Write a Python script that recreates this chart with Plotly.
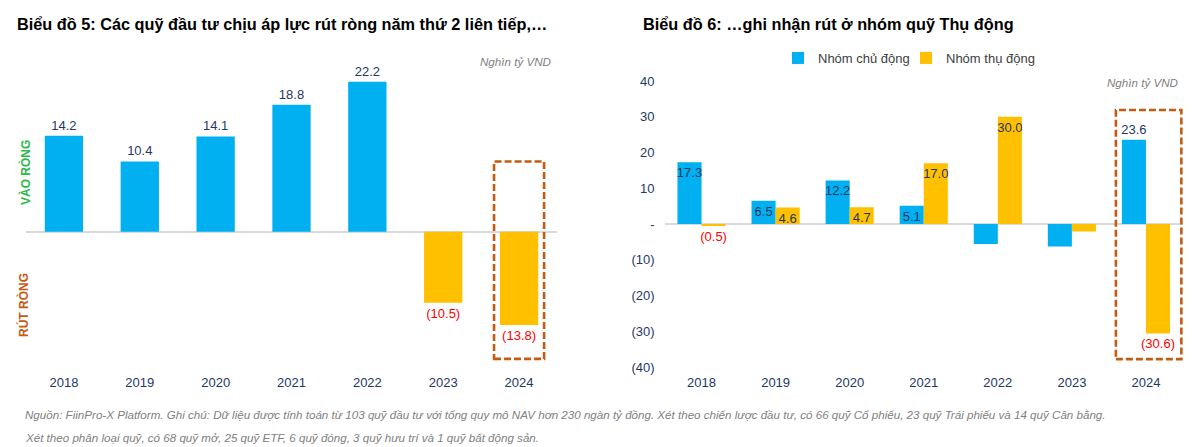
import plotly.graph_objects as go

# ---------------- data ----------------
years = ["2018", "2019", "2020", "2021", "2022", "2023", "2024"]

# Chart 5: net flows of investment funds (nghìn tỷ VND)
net_flow = [14.2, 10.4, 14.1, 18.8, 22.2, -10.5, -13.8]
net_flow_text = ["14.2", "10.4", "14.1", "18.8", "22.2", "(10.5)", "(13.8)"]

# Chart 6: active vs passive
active = [17.3, 6.5, 12.2, 5.1, -5.6, -6.3, 23.6]
active_text = ["17.3", "6.5", "12.2", "5.1", "", "", "23.6"]
passive = [-0.5, 4.6, 4.7, 17.0, 30.0, -2.1, -30.6]
passive_text = ["(0.5)", "4.6", "4.7", "17.0", "30.0", "", "(30.6)"]

y6_tickvals = [-40, -30, -20, -10, 0, 10, 20, 30, 40]
y6_ticktext = ["(40)", "(30)", "(20)", "(10)", "-", "10", "20", "30", "40"]

title5 = "Biểu đồ 5: Các quỹ đầu tư chịu áp lực rút ròng năm thứ 2 liên tiếp,…"
title6 = "Biểu đồ 6: …ghi nhận rút ở nhóm quỹ Thụ động"
unit_label = "Nghìn tỷ VND"
footer1 = ("Nguồn: FiinPro-X Platform. Ghi chú: Dữ liệu được tính toán từ 103 quỹ đầu tư với tổng quy mô NAV hơn "
           "230 ngàn tỷ đồng. Xét theo chiến lược đầu tư, có 66 quỹ Cổ phiếu, 23 quỹ Trái phiếu và 14 quỹ Cân bằng.")
footer2 = "Xét theo phân loại quỹ, có 68 quỹ mở, 25 quỹ ETF, 6 quỹ đóng, 3 quỹ hưu trí và 1 quỹ bất động sản."

# ---------------- style ----------------
W, H = 1200, 447
FONT = "Liberation Sans, Arial, sans-serif"
BLUE = "#00B0F0"
YELLOW = "#FFC000"
NAVY = "#1F3864"
RED = "#FF0000"
BROWN = "#C55A11"
GREEN = "#2DB84B"
LBL = 13


def px(x):
    return x / W


def py(y):
    return 1 - y / H


fig = go.Figure()

# Chart 5 bars
fig.add_trace(go.Bar(
    x=years, y=net_flow, xaxis="x", yaxis="y",
    marker=dict(color=[BLUE if v >= 0 else YELLOW for v in net_flow], line=dict(width=0)),
    width=0.505,
    text=net_flow_text, textposition="outside", constraintext="none", cliponaxis=False,
    textangle=0,
    textfont=dict(size=LBL, color=[NAVY if v >= 0 else RED for v in net_flow], family=FONT),
    showlegend=False, hoverinfo="x+y",
))

# Chart 6 bars
fig.add_trace(go.Bar(
    name="Nhóm chủ động", x=years, y=active, xaxis="x2", yaxis="y2", legend="legend",
    marker=dict(color=BLUE, line=dict(width=0)),
    width=0.325, offset=-0.325,
    text=active_text,
    textposition=["inside", "inside", "inside", "inside", "none", "none", "outside"],
    insidetextanchor="end", constraintext="none", cliponaxis=False, textangle=0,
    textfont=dict(size=LBL, color=NAVY, family=FONT),
))
fig.add_trace(go.Bar(
    name="Nhóm thụ động", x=years, y=passive, xaxis="x2", yaxis="y2", legend="legend2",
    marker=dict(color=YELLOW, line=dict(width=0)),
    width=0.325, offset=0.0,
    text=passive_text,
    textposition=["outside", "inside", "inside", "inside", "inside", "none", "outside"],
    insidetextanchor="end", constraintext="none", cliponaxis=False, textangle=0,
    textfont=dict(size=LBL, color=[RED if v < 0 else NAVY for v in passive], family=FONT),
))

legend_style = dict(orientation="h", xanchor="left", y=py(58), yanchor="middle",
                    font=dict(size=13, color="#404040"), itemwidth=30,
                    bgcolor="rgba(0,0,0,0)", borderwidth=0)

fig.update_layout(
    width=W, height=H,
    margin=dict(l=0, r=0, t=0, b=0, pad=0, autoexpand=False),
    paper_bgcolor="white", plot_bgcolor="white",
    font=dict(family=FONT, size=LBL, color=NAVY),
    uniformtext=dict(minsize=LBL, mode="show"),
    xaxis=dict(domain=[px(26), px(557)], type="category", showgrid=False, showline=False,
               ticks="", ticklabelstandoff=6, tickfont=dict(size=13, color=NAVY), anchor="y"),
    yaxis=dict(domain=[py(367), py(56)], range=[-20, 26], showgrid=False, showticklabels=False,
               zeroline=True, zerolinecolor="#D9D9D9", zerolinewidth=1.5, anchor="x"),
    xaxis2=dict(domain=[px(664.5), px(1183)], type="category", showgrid=False, showline=False,
                ticks="", ticklabelstandoff=6, tickfont=dict(size=13, color=NAVY), anchor="y2"),
    yaxis2=dict(domain=[py(367), py(81)], range=[-40, 40], showgrid=False, showline=False,
                tickvals=y6_tickvals, ticktext=y6_ticktext, ticks="", ticklabelstandoff=9,
                tickfont=dict(size=13, color=NAVY),
                zeroline=True, zerolinecolor="#D9D9D9", zerolinewidth=1.5, anchor="x2"),
    legend=dict(x=px(778), **legend_style),
    legend2=dict(x=px(906), **legend_style),
    shapes=[
        dict(type="rect", xref="x", yref="y", x0=5.67, x1=6.33, y0=-18.8, y1=10.4,
             line=dict(color=BROWN, width=2.6, dash="7px,3px")),
        dict(type="rect", xref="x2", yref="y2", x0=5.594, x1=6.478, y0=-37.8, y1=31.9,
             line=dict(color=BROWN, width=2.6, dash="7px,3px")),
    ],
    annotations=[
        dict(text="<b>" + title5 + "</b>", xref="paper", yref="paper", x=px(15), y=py(24),
             xanchor="left", yanchor="middle", showarrow=False, font=dict(size=16.3, color="black")),
        dict(text="<b>" + title6 + "</b>", xref="paper", yref="paper", x=px(641), y=py(24),
             xanchor="left", yanchor="middle", showarrow=False, font=dict(size=16.3, color="black")),
        dict(text="<i>" + unit_label + "</i>", xref="paper", yref="paper", x=px(553), y=py(62),
             xanchor="right", yanchor="middle", showarrow=False, font=dict(size=11.6, color="#808080")),
        dict(text="<i>" + unit_label + "</i>", xref="paper", yref="paper", x=px(1180), y=py(82),
             xanchor="right", yanchor="middle", showarrow=False, font=dict(size=11.6, color="#808080")),
        dict(text="<b>VÀO RÒNG</b>", xref="paper", yref="paper", x=px(25), y=py(173),
             xanchor="center", yanchor="middle", textangle=-90, showarrow=False,
             font=dict(size=12, color=GREEN)),
        dict(text="<b>RÚT RÒNG</b>", xref="paper", yref="paper", x=px(23), y=py(305),
             xanchor="center", yanchor="middle", textangle=-90, showarrow=False,
             font=dict(size=12, color=BROWN)),
        dict(text="<i>" + footer1 + "</i>", xref="paper", yref="paper", x=px(23), y=py(414),
             xanchor="left", yanchor="middle", showarrow=False, font=dict(size=11.6, color="#808080")),
        dict(text="<i>" + footer2 + "</i>", xref="paper", yref="paper", x=px(23), y=py(437),
             xanchor="left", yanchor="middle", showarrow=False, font=dict(size=11.6, color="#808080")),
    ],
)

fig.write_html(
    "out.html",
    config={"displayModeBar": False},
    post_script="document.body.style.margin='0';document.documentElement.style.overflow='hidden';",
)
